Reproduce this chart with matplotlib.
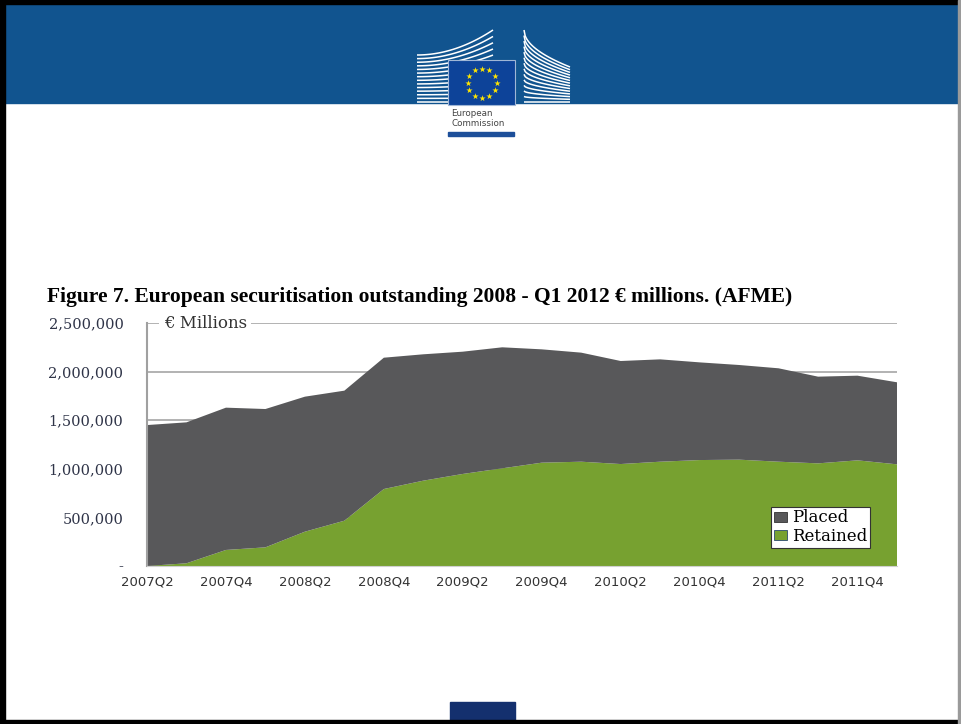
import numpy as np
import matplotlib
matplotlib.use("Agg")
import matplotlib.pyplot as plt
from matplotlib.patches import Rectangle, Patch
from matplotlib.ticker import FuncFormatter

# quarterly data, EUR millions
quarters = ["2007Q2", "2007Q3", "2007Q4", "2008Q1", "2008Q2", "2008Q3", "2008Q4",
            "2009Q1", "2009Q2", "2009Q3", "2009Q4", "2010Q1", "2010Q2", "2010Q3",
            "2010Q4", "2011Q1", "2011Q2", "2011Q3", "2011Q4", "2012Q1"]
retained = [0, 28000, 165000, 192000, 353000, 466000, 792000, 878000, 947000, 1005000,
            1063000, 1073000, 1049000, 1073000, 1090000, 1094000, 1073000, 1056000,
            1087000, 1046000]
total = [1450000, 1478000, 1629000, 1615000, 1742000, 1804000, 2143000, 2178000,
         2205000, 2250000, 2229000, 2195000, 2109000, 2126000, 2095000, 2068000,
         2034000, 1948000, 1958000, 1890000]
placed = [t - r for t, r in zip(total, retained)]

title = "Figure 7. European securitisation outstanding 2008 - Q1 2012 \u20ac millions. (AFME)"

W, H = 961, 724
fig = plt.figure(figsize=(W / 100, H / 100), dpi=100)

# slide background in pixel coordinates
bg = fig.add_axes([0, 0, 1, 1])
bg.set_xlim(0, W)
bg.set_ylim(H, 0)
bg.axis("off")

hdr_blue = "#11548f"
bg.add_patch(Rectangle((0, 0), W, 103, color=hdr_blue, zorder=1))
# black frame
bg.add_patch(Rectangle((0, 0), W, 4, color="black", zorder=5))
bg.add_patch(Rectangle((0, 0), 5, H, color="black", zorder=5))
bg.add_patch(Rectangle((0, 720), W, 4, color="black", zorder=5))
bg.add_patch(Rectangle((958, 0), 3, H, color="#9a9a9a", zorder=5))

# EC logo - left building stripes
n = 14
xs = np.linspace(417, 493, 40)
for k in range(n):
    t = k / (n - 1)
    yl = 55 + t * 47
    ys = yl - (1 - t) ** 1.5 * 25 * ((xs - 417) / 76) ** 2
    bg.plot(xs, ys, color="white", lw=1.1, solid_capstyle="butt", zorder=2)
# right building stripes
xr = np.linspace(524, 570, 40)
for k in range(n):
    t = k / (n - 1)
    y0 = 30 + t * 72
    y1 = 67 + t * 35
    ys = y0 + (y1 - y0) * np.sqrt((xr - 524) / 46)
    bg.plot(xr, ys, color="white", lw=1.1, solid_capstyle="butt", zorder=2)

bg.add_patch(Rectangle((448, 60), 67, 45, facecolor="#0d4399", edgecolor="#9fb6d6",
                       lw=0.8, zorder=3))
ang = np.arange(12) * np.pi / 6
bg.scatter(482 + 14.5 * np.cos(ang), 83 + 14.5 * np.sin(ang), marker="*", s=22,
           color="#ffe600", linewidths=0, zorder=4)
bg.text(451, 113, "European", fontsize=6.3, color="#444444", va="center", zorder=4,
        family="Liberation Sans Narrow")
bg.text(451, 124, "Commission", fontsize=6.3, color="#444444", va="center", zorder=4,
        family="Liberation Sans Narrow")
bg.add_patch(Rectangle((448, 132), 66, 4, color="#1d4f9a", zorder=3))

# bottom tab
bg.add_patch(Rectangle((450, 702), 65, 19, color="#14306e", zorder=3))

bg.text(47, 297, title, fontsize=15.5, fontweight="bold", family="Liberation Serif",
        va="center", ha="left", color="black")

# chart
ax = fig.add_axes([147 / W, (H - 566) / H, 750 / W, 243 / H])
x = np.arange(len(quarters))
ax.stackplot(x, retained, placed, colors=["#77a130", "#58585a"], zorder=2)
ax.set_xlim(0, len(quarters) - 1)
ax.set_ylim(0, 2500000)
ax.set_yticks(np.arange(0, 2500001, 500000))
ax.yaxis.set_major_formatter(FuncFormatter(lambda v, p: "-" if v == 0 else f"{v:,.0f}"))
ax.set_xticks(x[::2])
ax.set_xticklabels(quarters[::2])
ax.yaxis.grid(True, color="#a6a6a6", lw=1.2, zorder=1)
ax.set_axisbelow(True)
for s in ["top", "right"]:
    ax.spines[s].set_visible(False)
ax.spines["left"].set_color("#a0a0a0")
ax.spines["left"].set_linewidth(1.5)
ax.spines["bottom"].set_color("#d0d0d0")
ax.tick_params(axis="both", length=0)
ax.tick_params(axis="y", pad=17, labelsize=10.5, labelcolor="#2f3448")
ax.tick_params(axis="x", pad=7, labelsize=9.5, labelcolor="#333333")
for lb in ax.get_yticklabels():
    lb.set_family("DejaVu Serif")

ax.text(0.42, 2500000, "\u20ac Millions", fontsize=12, family="DejaVu Serif",
        color="#333333", va="center", ha="left", zorder=3,
        bbox=dict(facecolor="white", edgecolor="none", pad=3))

handles = [Patch(facecolor="#58585a", edgecolor="#333333", lw=0.6, label="Placed"),
           Patch(facecolor="#77a130", edgecolor="#2b4a6f", lw=0.6, label="Retained")]
leg = ax.legend(handles=handles, loc="upper left",
                bbox_to_anchor=(771 / W, 1 - 507 / H), bbox_transform=fig.transFigure,
                fancybox=False, framealpha=1, edgecolor="#333333",
                prop={"family": "DejaVu Serif", "size": 12},
                handlelength=0.8, handleheight=0.55, handletextpad=0.3,
                labelspacing=0.1, borderpad=0.15, borderaxespad=0)
leg.get_frame().set_linewidth(0.8)

fig.savefig("out.png", dpi=100)
